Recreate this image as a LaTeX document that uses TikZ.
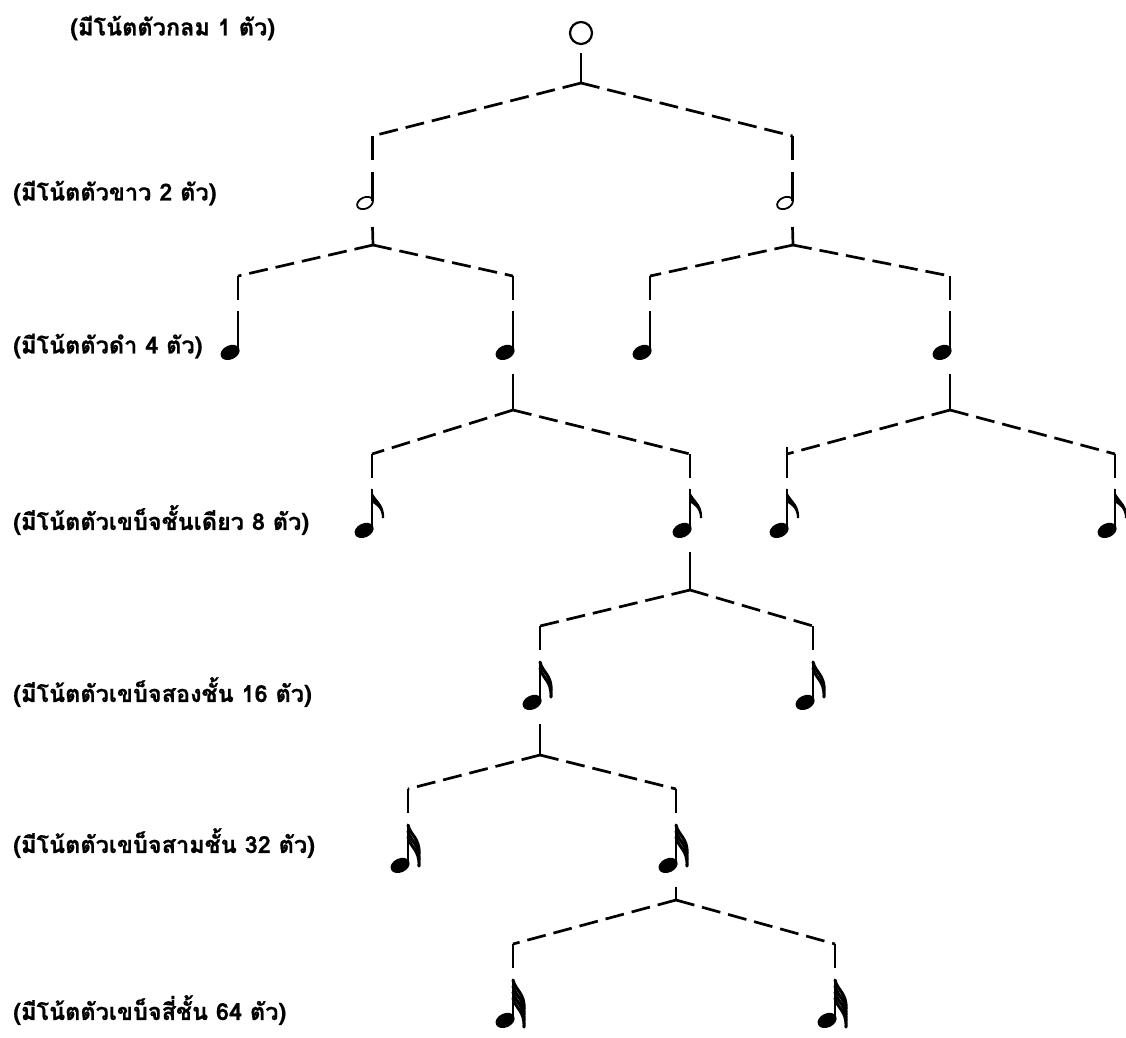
\documentclass[tikz,border=0pt]{standalone}
\usepackage{fontspec}
\newfontfamily\thaifont[Script=Thai, BoldFeatures={FakeBold=0.6}]{Loma}

\begin{document}
\begin{tikzpicture}[x=1pt, y=-1pt,
    lbl/.style = {anchor=west, inner sep=0pt, font=\thaifont\bfseries\fontsize{23.5}{26}\selectfont},
    tie/.style = {line width=2.7pt, dash pattern=on 19pt off 8pt},
    rod/.style = {line width=2.7pt},
    stem/.style = {line width=2.2pt},
    flag/.style = {line width=3.1pt, line cap=round},
    pics/whole/.style = {code={
        \draw[line width=2.2pt] (0,0) circle (11);
        \coordinate (-bot) at (0,20);
    }},
    pics/half/.style = {code={
        \draw[line width=1.8pt, rotate=25] (0,0) ellipse (8.3 and 5.6);
        \draw[stem] (7.5,-2) -- (7.5,-31);
        \coordinate (-top) at (7.5,-43);
        \coordinate (-cor) at (7.5,-67);
        \coordinate (-bot) at (7.5,24);
    }},
    pics/note/.style = {code={
        \fill[rotate=25] (-1,0) ellipse (10 and 7);
        \draw[stem] (7,-2) -- (7,-41);
        \ifnum#1=1
            \fill (6,-42) .. controls (8,-30) and (20,-28) .. (19,-12) -- (17,-12)
                .. controls (17,-22) and (10,-26) .. (6,-28) -- cycle;
        \fi
        \ifnum#1>1
            \foreach \k in {1,...,#1}
                \draw[flag] (7,-40+6*\k-6) .. controls (9,-30+6*\k-6) and (19,-27+6*\k-6) .. (18,-11+6*\k-6);
        \fi
        \coordinate (-top) at (7,-52);
        \coordinate (-cor) at (7,-76);
        \coordinate (-bot) at (7,22);
    }}]
    \useasboundingbox (0,0) rectangle (1126,1037);

    \node[lbl] (l0) at (70,28) {(มีโน้ตตัวกลม 1 ตัว)};
    \node[lbl] (l1) at (13,193) {(มีโน้ตตัวขาว 2 ตัว)};
    \node[lbl] (l2) at (13,346) {(มีโน้ตตัวดำ 4 ตัว)};
    \node[lbl] (l3) at (13,520) {(มีโน้ตตัวเขบ็จชั้นเดียว 8 ตัว)};
    \node[lbl] (l4) at (13,692) {(มีโน้ตตัวเขบ็จสองชั้น 16 ตัว)};
    \node[lbl] (l5) at (13,843) {(มีโน้ตตัวเขบ็จสามชั้น 32 ตัว)};
    \node[lbl] (l6) at (13,1010) {(มีโน้ตตัวเขบ็จสี่ชั้น 64 ตัว)};

    \pic (w0) at (581,33) {whole};
    \pic (h0) at (365,203) {half};
    \pic (h1) at (785,203) {half};
    \pic (q0) at (231,352) {note=0};
    \pic (q1) at (506,352) {note=0};
    \pic (q2) at (643,352) {note=0};
    \pic (q3) at (943,352) {note=0};
    \pic (e0) at (365,530) {note=1};
    \pic (e1) at (683,530) {note=1};
    \pic (e2) at (780,530) {note=1};
    \pic (e3) at (1108,530) {note=1};
    \pic (s0) at (533,702) {note=2};
    \pic (s1) at (806,702) {note=2};
    \pic (t0) at (401,865) {note=3};
    \pic (t1) at (669,865) {note=3};
    \pic (x0) at (506,1020) {note=4};
    \pic (x1) at (828,1020) {note=4};

    \coordinate (j0) at (581,83);
    \coordinate (j1) at (373,245);
    \coordinate (j2) at (793,245);
    \coordinate (j3) at (513,410);
    \coordinate (j4) at (950,410);
    \coordinate (j5) at (690,590);
    \coordinate (j6) at (540,755);
    \coordinate (j7) at (676,900);

    \draw[rod] (w0-bot) -- (j0);
    \draw[tie] (j0) -- (h0-cor);
    \draw[tie] (j0) -- (h1-cor);
    \draw[rod] (h0-cor) -- (h0-top);
    \draw[rod] (h1-cor) -- (h1-top);

    \draw[rod] (h0-bot) -- (j1);
    \draw[tie] (j1) -- (q0-cor);
    \draw[tie] (j1) -- (q1-cor);
    \draw[rod] (q0-cor) -- (q0-top);
    \draw[rod] (q1-cor) -- (q1-top);

    \draw[rod] (h1-bot) -- (j2);
    \draw[tie] (j2) -- (q2-cor);
    \draw[tie] (j2) -- (q3-cor);
    \draw[rod] (q2-cor) -- (q2-top);
    \draw[rod] (q3-cor) -- (q3-top);

    \draw[rod] (q1-bot) -- (j3);
    \draw[tie] (j3) -- (e0-cor);
    \draw[tie] (j3) -- (e1-cor);
    \draw[rod] (e0-cor) -- (e0-top);
    \draw[rod] (e1-cor) -- (e1-top);

    \draw[rod] (q3-bot) -- (j4);
    \draw[tie] (j4) -- (e2-cor);
    \draw[tie] (j4) -- (e3-cor);
    \draw[rod] ([yshift=7pt]e2-cor) -- (e2-top);
    \draw[rod] (e3-cor) -- (e3-top);

    \draw[rod] (e1-bot) -- (j5);
    \draw[tie] (j5) -- (s0-cor);
    \draw[tie] (j5) -- (s1-cor);
    \draw[rod] (s0-cor) -- (s0-top);
    \draw[rod] (s1-cor) -- (s1-top);

    \draw[rod] (s0-bot) -- (j6);
    \draw[tie] (j6) -- (t0-cor);
    \draw[tie] (j6) -- (t1-cor);
    \draw[rod] (t0-cor) -- (t0-top);
    \draw[rod] (t1-cor) -- (t1-top);

    \draw[rod] (t1-bot) -- (j7);
    \draw[tie] (j7) -- (x0-cor);
    \draw[tie] (j7) -- (x1-cor);
    \draw[rod] (x0-cor) -- (x0-top);
    \draw[rod] (x1-cor) -- (x1-top);
\end{tikzpicture}
\end{document}
